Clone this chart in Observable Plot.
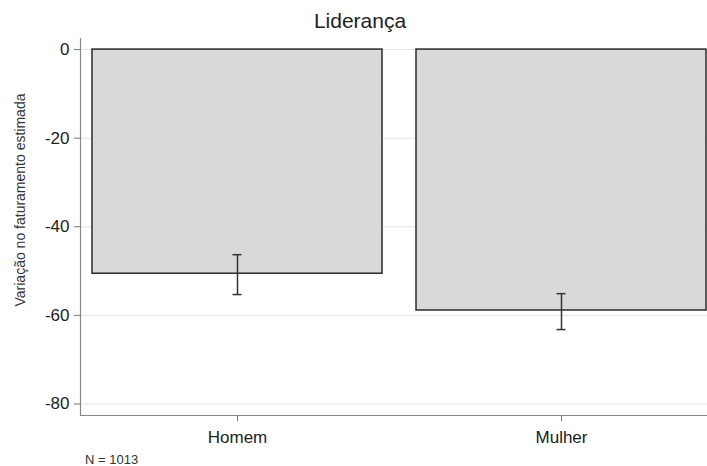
<!DOCTYPE html>
<html><head><meta charset="utf-8">
<script src="https://cdn.jsdelivr.net/npm/d3@7"></script>
<script src="https://cdn.jsdelivr.net/npm/@observablehq/plot@0.6"></script>
<style>
body{margin:0;background:#fff;font-family:"Liberation Sans",Arial,sans-serif;}
#wrap{position:relative;width:707px;height:466px;overflow:hidden;}
#chart{position:absolute;left:0;top:0;}
#title{position:absolute;left:0;width:720px;top:10px;text-align:center;font-size:21px;line-height:21px;color:#222;}
#ylab{position:absolute;left:20px;top:200px;transform:translate(-50%,-50%) rotate(-90deg);white-space:nowrap;font-size:14px;line-height:14px;color:#333;}
#cap{position:absolute;left:85px;top:453px;font-size:13px;line-height:13px;color:#333;}
</style></head><body>
<div id="wrap">
<div id="chart"></div>
<div id="title">Liderança</div>
<div id="ylab">Variação no faturamento estimada</div>
<div id="cap">N = 1013</div>
</div>
<script>
const categories = ["Homem", "Mulher"];
const values = [-50.6, -58.9];
const ciLow = [-55.3, -63.2];
const ciHigh = [-46.3, -55.1];
const yTicks = [0, -20, -40, -60, -80];

const data = categories.map((c, i) => ({cat: c, value: values[i], lo: ciLow[i], hi: ciHigh[i]}));

const chart = Plot.plot({
  width: 707,
  height: 466,
  marginTop: 38,
  marginBottom: 51,
  marginLeft: 80,
  marginRight: 0,
  style: {fontFamily: "'Liberation Sans', Arial, sans-serif", fontSize: "17px", color: "#222", background: "transparent"},
  x: {domain: categories, paddingInner: 0.105, paddingOuter: 0, insetLeft: 12, insetRight: 1},
  y: {domain: [-82.6, 2.5]},
  marks: [
    Plot.gridY(yTicks, {stroke: "#e4e4e4", strokeOpacity: 1, strokeWidth: 1}),
    Plot.barY(data, {x: "cat", y1: 0, y2: "value", fill: "#d9d9d9", stroke: "#2a2a2a", strokeWidth: 1.5}),
    Plot.ruleX(data, {x: "cat", y1: "lo", y2: "hi", stroke: "#333", strokeWidth: 1.5}),
    Plot.tickY(data, {x: "cat", y: "lo", insetLeft: 140.5, insetRight: 140.5, stroke: "#333", strokeWidth: 1.5}),
    Plot.tickY(data, {x: "cat", y: "hi", insetLeft: 140.5, insetRight: 140.5, stroke: "#333", strokeWidth: 1.5}),
    Plot.frame({anchor: "left", stroke: "#888", strokeWidth: 1.2}),
    Plot.frame({anchor: "bottom", stroke: "#888", strokeWidth: 1.2}),
    Plot.axisY(yTicks, {tickSize: 6, tickPadding: 5, label: null, tickFormat: d => String(d), stroke: "#777", fill: "#222"}),
    Plot.axisX(categories, {tickSize: 6, tickPadding: 9, label: null, stroke: "#777", fill: "#222"})
  ]
});
document.getElementById("chart").appendChild(chart);
</script>
</body></html>
